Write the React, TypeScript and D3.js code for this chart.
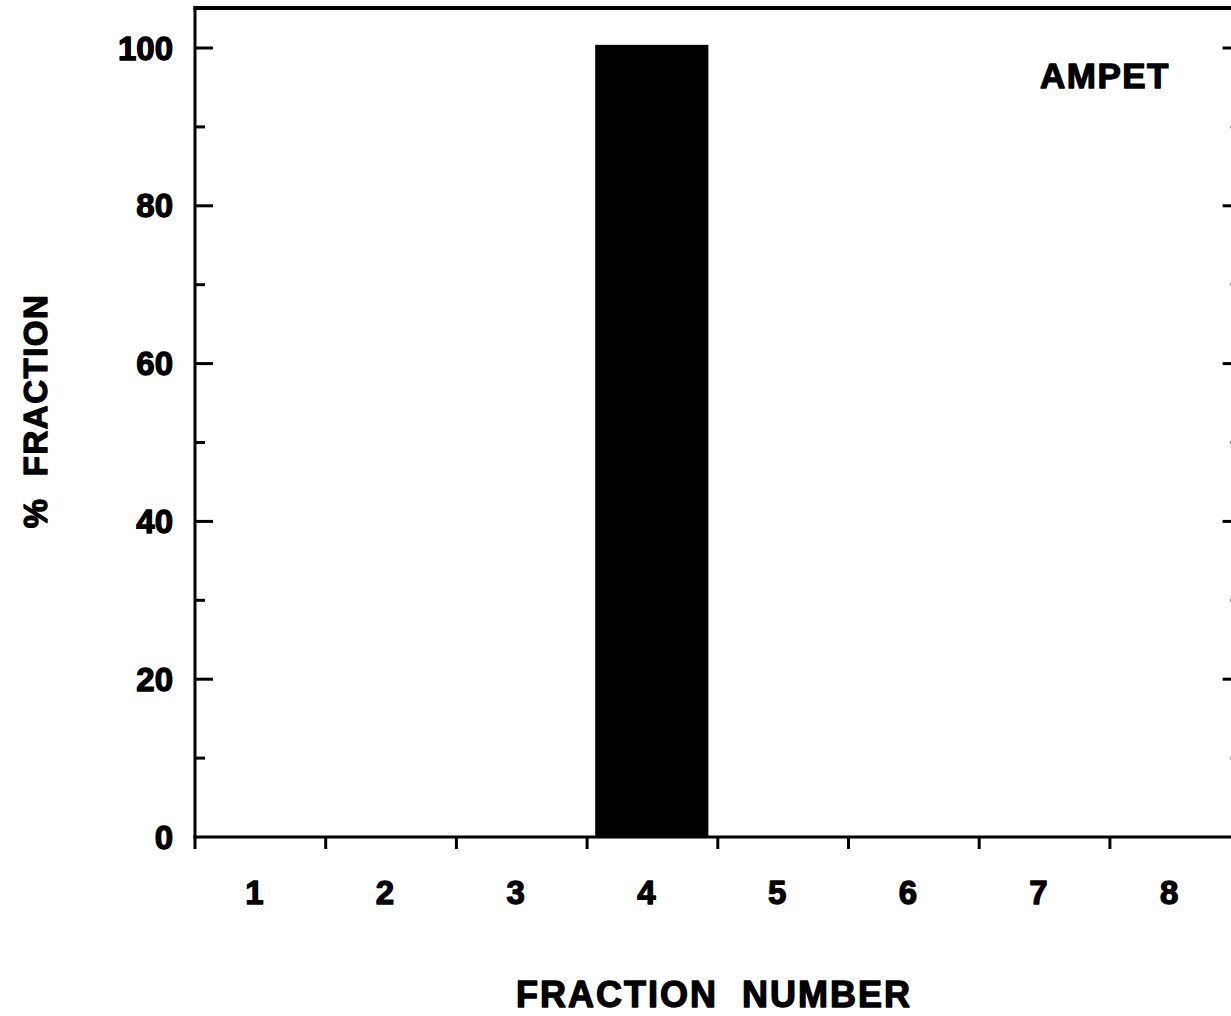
import React, { useEffect, useRef } from "react";
import * as d3 from "d3";

const categories = ["1", "2", "3", "4", "5", "6", "7", "8"];
const percentValues = [0, 0, 0, 100.4, 0, 0, 0, 0];
const yMajorTicks = [0, 20, 40, 60, 80, 100];
const yMinorTicks = [10, 30, 50, 70, 90];
const panelLabel = "AMPET";
const xTitle = "FRACTION  NUMBER";
const yTitle = "%  FRACTION";

const W = 1231;
const H = 1016;
const FONT = "'Liberation Sans', Arial, Helvetica, sans-serif";

export default function App() {
  const ref = useRef<SVGSVGElement | null>(null);

  useEffect(() => {
    const svg = d3.select(ref.current);
    svg.selectAll("*").remove();

    const left = 195;
    const right = 1240.6;
    const top = 8;
    const bottom = 837;

    const x = d3.scaleBand<string>().domain(categories).range([left, right]).padding(0);
    const y = d3.scaleLinear().domain([0, 100]).range([bottom, 48]);
    const bw = x.bandwidth();

    const g = svg.append("g");

    const boldText = (sel: any, size: number) =>
      sel
        .attr("font-family", FONT)
        .attr("font-weight", "bold")
        .attr("font-size", size)
        .attr("fill", "#000")
        .attr("stroke", "#000")
        .attr("stroke-width", 1.3)
        .attr("stroke-linejoin", "round");

    // bars
    g.selectAll("rect.bar")
      .data(categories.map((c, i) => ({ c, v: percentValues[i] })).filter((d) => d.v > 0))
      .enter()
      .append("rect")
      .attr("class", "bar")
      .attr("x", (d) => (x(d.c) as number) + bw * 0.062)
      .attr("width", bw * 0.866)
      .attr("y", (d) => y(d.v))
      .attr("height", (d) => bottom - y(d.v))
      .attr("fill", "#000");

    // frame
    g.append("line").attr("x1", left).attr("x2", left).attr("y1", top - 2).attr("y2", bottom + 1.5)
      .attr("stroke", "#000").attr("stroke-width", 3);
    g.append("line").attr("x1", right).attr("x2", right).attr("y1", top - 2).attr("y2", bottom + 1.5)
      .attr("stroke", "#000").attr("stroke-width", 3);
    g.append("line").attr("x1", left - 1.5).attr("x2", W + 20).attr("y1", bottom).attr("y2", bottom)
      .attr("stroke", "#000").attr("stroke-width", 3);
    g.append("line").attr("x1", left - 1.5).attr("x2", W + 20).attr("y1", top).attr("y2", top)
      .attr("stroke", "#000").attr("stroke-width", 4);

    // x ticks at band boundaries
    const bounds = categories.map((c) => x(c) as number).concat([right]);
    g.selectAll("line.xt").data(bounds).enter().append("line")
      .attr("x1", (d) => d).attr("x2", (d) => d)
      .attr("y1", bottom).attr("y2", bottom + 12)
      .attr("stroke", "#000").attr("stroke-width", 3);

    // y ticks left & right
    g.selectAll("line.ymaj").data(yMajorTicks.filter((t) => t > 0)).enter().append("line")
      .attr("x1", left).attr("x2", left + 18)
      .attr("y1", (d) => y(d)).attr("y2", (d) => y(d))
      .attr("stroke", "#000").attr("stroke-width", 3);
    g.selectAll("line.ymin").data(yMinorTicks).enter().append("line")
      .attr("x1", left).attr("x2", left + 10)
      .attr("y1", (d) => y(d)).attr("y2", (d) => y(d))
      .attr("stroke", "#000").attr("stroke-width", 3);
    g.selectAll("line.ymajr").data(yMajorTicks.filter((t) => t > 0)).enter().append("line")
      .attr("x1", right).attr("x2", right - 18)
      .attr("y1", (d) => y(d)).attr("y2", (d) => y(d))
      .attr("stroke", "#000").attr("stroke-width", 3);
    g.selectAll("line.yminr").data(yMinorTicks).enter().append("line")
      .attr("x1", right).attr("x2", right - 10)
      .attr("y1", (d) => y(d)).attr("y2", (d) => y(d))
      .attr("stroke", "#000").attr("stroke-width", 3);

    // y tick labels
    boldText(
      g.selectAll("text.yl").data(yMajorTicks).enter().append("text")
        .attr("x", left - 22).attr("y", (d) => y(d) + 11.5)
        .attr("text-anchor", "end"),
      33
    ).text((d: number) => String(d));

    // x tick labels
    boldText(
      g.selectAll("text.xl").data(categories).enter().append("text")
        .attr("x", (d) => (x(d) as number) + bw / 2 - 6).attr("y", 904)
        .attr("text-anchor", "middle"),
      33
    ).text((d: string) => d);

    // panel label
    boldText(
      g.append("text").attr("x", 1105).attr("y", 88).attr("text-anchor", "middle")
        .attr("letter-spacing", 1.5),
      35
    ).text(panelLabel);

    // axis titles
    boldText(
      g.append("text").attr("x", 714).attr("y", 1007).attr("text-anchor", "middle")
        .attr("letter-spacing", 2)
        .style("white-space", "pre"),
      36
    ).text(xTitle);

    boldText(
      g.append("text")
        .attr("transform", `translate(47, 411) rotate(-90)`)
        .attr("text-anchor", "middle")
        .attr("letter-spacing", 1.5)
        .style("white-space", "pre"),
      33
    ).text(yTitle);
  }, []);

  return (
    <svg
      ref={ref}
      width={W}
      height={H}
      style={{ position: "absolute", left: 0, top: 0, background: "#fff" }}
    />
  );
}
